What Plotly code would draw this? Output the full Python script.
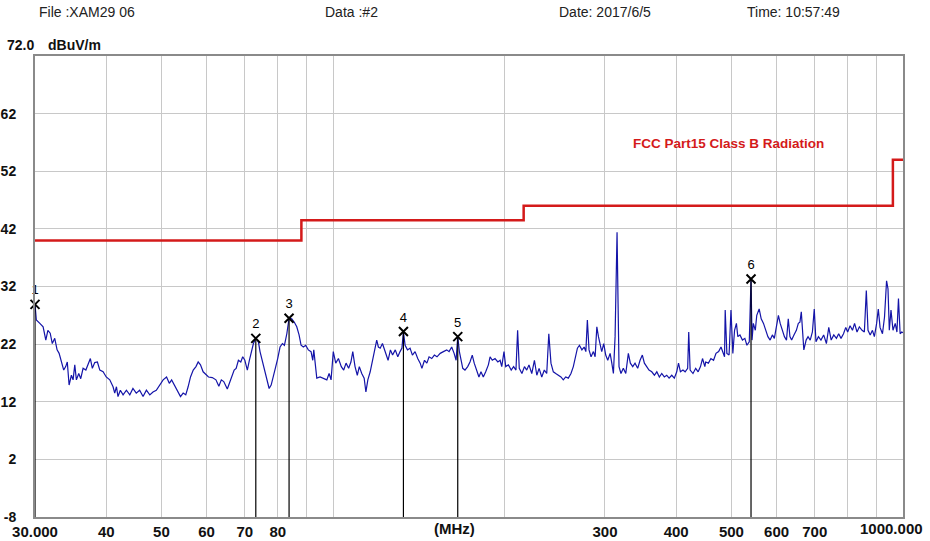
import math
import plotly.graph_objects as go

# ---------------- data ----------------
freq_mhz = [
    30.0, 30.16, 30.59, 31.0, 31.34, 31.6, 31.9, 32.17, 32.49, 32.8, 33.07, 33.37, 33.69, 33.96,
    34.18, 34.43, 34.75, 34.99, 35.23, 35.46, 35.8, 36.09, 36.43, 36.84, 37.19, 37.52, 37.82,
    38.19, 38.6, 38.98, 39.5, 40.0, 40.58, 41.12, 41.4, 41.69, 41.95, 42.35, 42.82, 43.4, 44.0,
    44.56, 45.16, 45.78, 46.42, 47.05, 47.7, 48.32, 48.97, 49.65, 50.34, 51.04, 51.61, 52.1,
    52.82, 53.52, 54.0, 54.58, 55.16, 55.69, 56.23, 56.85, 57.48, 58.0, 58.54, 59.17, 59.93,
    60.47, 61.4, 62.31, 63.05, 63.68, 64.31, 64.95, 65.24, 65.79, 66.44, 67.07, 67.61, 68.23,
    68.89, 69.43, 70.03, 70.74, 71.32, 72.03, 72.5, 73.2, 73.97, 74.46, 75.15, 75.78, 76.53,
    77.25, 77.88, 78.59, 79.34, 79.97, 80.73, 81.5, 82.17, 82.97, 83.73, 84.63, 85.53, 86.37,
    87.18, 87.89, 88.7, 89.55, 90.49, 91.5, 92.14, 92.52, 93.0, 93.65, 94.89, 96.18, 97.52,
    98.43, 99.21, 100.1, 101.1, 102.2, 103.4, 104.4, 105.4, 106.5, 107.5, 108.3, 109.3, 110.3,
    111.2, 112.3, 113.4, 114.2, 115.1, 116.2, 117.3, 118.2, 119.3, 120.1,
    121.0, 122.1, 123.5, 124.9, 126.1, 127.2, 128.6, 129.9, 131.1, 132.1, 132.9, 133.8, 135.1,
    136.5, 137.8, 139.3, 140.8, 142.2, 143.2, 144.7, 146.1, 147.4, 149.0, 150.6, 152.2, 154.2,
    156.2, 158.3, 159.8, 161.5, 163.1, 164.4, 165.5, 166.6, 167.8, 168.9, 170.4, 172.3, 173.9,
    175.5, 176.9, 178.6, 180.3, 181.8, 183.5, 185.3, 187.3, 188.6, 190.3, 192.4, 194.6, 196.4,
    197.7, 199.5, 200.9, 203.1, 205.4, 207.4, 209.4, 210.8, 212.2, 214.5, 216.7, 218.7, 220.7,
    223.2, 225.6, 227.8, 229.9, 232.4, 234.8, 237.1, 239.1,
    241.2, 243.5, 245.9, 248.5, 251.1, 253.5, 256.0, 258.7, 261.5, 264.0, 265.9, 268.4, 270.6,
    273.3, 275.8, 277.7, 279.4, 281.3, 283.6, 286.3, 288.3, 290.3, 292.2, 294.2, 296.1, 298.5,
    300.9, 303.4, 306.3, 308.4, 310.4, 312.5, 313.8, 315.0, 316.3, 317.5, 320.0, 323.1, 326.3,
    329.7, 332.4, 335.6, 338.7, 342.4, 345.7, 348.9, 351.8, 355.2, 358.4, 362.4, 366.3, 369.9,
    373.7, 377.3, 381.3, 385.0, 388.7, 392.9, 397.0, 400.9, 403.8, 406.9, 411.1, 414.7, 419.0,
    420.8, 423.2, 428.1, 432.8, 437.1, 441.3, 444.9, 449.1, 450.6, 455.6, 460.2, 465.2, 469.8,
    474.8, 479.4, 483.3, 486.3,
    487.6, 490.9, 495.3, 499.1, 502.9, 506.4, 510.2, 513.1, 517.5, 522.8, 527.9, 532.3, 537.4,
    541.2, 543.4, 546.3, 550.7, 553.9, 559.3, 563.9, 569.2, 574.8, 579.4, 584.7, 590.0, 594.7,
    600.2, 604.5, 608.9, 614.1, 619.4, 624.6, 629.1, 633.3, 637.7, 643.7, 650.0, 655.2, 659.4,
    663.1, 666.5, 669.9, 676.2, 681.4, 687.4, 693.5, 698.7, 703.6, 710.6, 717.9, 725.8, 733.9,
    740.9, 748.2, 756.1, 764.2, 771.2, 778.5, 786.4, 793.6, 799.7, 807.5, 815.4, 822.3, 830.5,
    838.4, 847.6, 855.5, 862.3, 868.2, 876.0, 883.9, 890.8, 899.0, 905.0, 911.5, 920.4, 928.1,
    935.8, 941.2, 946.2, 952.7, 960.4, 969.2, 975.8, 981.9, 988.5, 995.0, 1000.0,
]
level_dbuv = [
    28.9, 26.2, 25.6, 25.0, 22.7, 24.4, 23.9, 22.1, 23.0, 21.0, 20.4, 18.9, 17.5, 18.1,
    18.9, 14.9, 16.6, 15.8, 18.4, 15.8, 16.9, 16.0, 17.8, 17.5, 18.4, 19.5, 17.8,
    18.8, 18.9, 17.5, 17.2, 16.3, 15.8, 14.6, 13.5, 14.6, 12.9, 14.0, 13.2, 14.0, 13.2,
    14.3, 13.5, 14.0, 12.9, 14.0, 13.2, 13.7, 14.0, 14.9, 15.8, 16.3, 15.2, 15.8,
    14.6, 13.7, 12.9, 13.5, 13.2, 14.6, 16.3, 17.5, 18.1, 18.9, 18.4, 17.2, 16.6,
    16.3, 16.2, 15.8, 14.7, 15.8, 15.5, 14.6, 14.2, 15.2, 16.3, 17.5, 17.8, 19.2,
    18.9, 19.8, 19.2, 17.5, 19.2, 21.0, 22.1, 23.0, 22.4, 20.7, 19.2, 17.5, 15.8,
    14.3, 14.9, 16.3, 18.1, 19.5, 21.5, 22.1, 21.8, 23.8, 26.5, 26.4, 25.8, 25.0,
    23.6, 21.8, 21.5, 21.8, 21.0, 20.7, 19.2, 21.0, 18.4, 16.1, 16.3, 16.1, 15.8,
    16.9, 15.8, 20.7, 18.7, 19.5, 18.1, 17.5, 18.7, 17.8, 18.9, 20.7, 18.1, 16.6,
    18.1, 16.9, 16.1, 13.7, 15.8, 17.2, 19.2, 21.0, 22.7, 21.5,
    21.3, 22.1, 20.7, 19.2, 21.0, 20.1, 21.0, 19.8, 20.7, 21.3, 24.2, 21.8, 21.0,
    21.3, 20.1, 20.7, 19.5, 18.7, 17.8, 19.2, 18.7, 19.8, 19.5, 20.1, 19.8, 20.4,
    20.7, 21.0, 20.7, 21.5, 20.4, 19.2, 23.3, 20.7, 19.2, 17.8, 17.5, 18.1, 18.9,
    20.1, 18.7, 17.5, 16.3, 17.2, 16.3, 17.2, 18.4, 19.8, 19.2, 19.5, 18.9, 19.2,
    18.1, 20.7, 18.1, 18.4, 17.5, 18.1, 17.5, 24.4, 17.8, 16.9, 18.1, 17.5, 18.4,
    16.9, 19.2, 16.6, 17.8, 16.3, 17.5, 16.9, 23.8,
    18.7, 17.2, 16.9, 16.6, 16.3, 15.8, 16.3, 16.1, 16.9, 18.1, 19.8, 21.3, 21.8,
    21.0, 21.5, 20.7, 26.2, 21.0, 19.8, 20.7, 19.8, 25.0, 23.3, 21.8, 20.7, 22.1,
    20.1, 19.2, 20.4, 18.7, 16.9, 23.3, 35.4, 41.4, 29.0, 18.1, 16.9, 17.8, 16.9,
    20.4, 18.7, 18.1, 18.7, 17.8, 19.2, 20.1, 18.7, 18.1, 17.5, 17.2, 16.6, 17.2,
    16.3, 16.9, 16.3, 16.6, 16.1, 16.6, 16.1, 17.2, 18.7, 17.2, 17.5, 17.2, 17.8,
    24.1, 17.5, 16.9, 17.8, 17.2, 18.1, 19.5, 18.1, 18.9, 18.7, 19.5, 19.2, 20.4,
    20.7, 21.5, 20.7, 19.8,
    27.9, 20.4, 20.1, 27.9, 20.4, 24.4, 25.6, 23.3, 23.6, 22.7, 23.0, 21.8, 22.4,
    33.3, 22.7, 25.6, 24.4, 27.0, 28.1, 26.4, 25.6, 24.1, 23.3, 22.7, 23.6, 23.0,
    25.6, 27.0, 25.6, 24.4, 23.3, 22.7, 26.4, 23.3, 22.7, 23.6, 24.4, 25.6, 25.8,
    27.6, 24.1, 21.0, 22.7, 23.3, 22.7, 24.1, 28.1, 22.4, 23.3, 22.7, 23.6, 22.1,
    24.9, 22.7, 23.6, 23.0, 23.8, 23.0, 23.8, 24.9, 24.1, 25.2, 24.4, 25.6, 24.1,
    25.0, 24.4, 24.1, 31.3, 24.4, 23.6, 24.4, 23.3, 25.6, 28.1, 24.9, 23.8, 26.7,
    33.0, 31.6, 24.4, 27.9, 24.4, 25.6, 24.1, 29.9, 23.8, 24.1, 24.0,
]

limit_freq = [30, 88, 216, 960, 1000]
limit_level = [40, 43.5, 46, 54, 54]
limit_name = "FCC Part15 Class B Radiation"

marker_freq = [30.0, 73.2, 83.73, 132.9, 165.5, 541.2]
marker_level = [28.9, 23.0, 26.5, 24.2, 23.3, 33.3]
marker_label = ["1", "2", "3", "4", "5", "6"]

y_min, y_max = -8, 72
y_tick_vals = [-8, 2, 12, 22, 32, 42, 52, 62]
y_tick_text = ["-8", "2", "12", "22", "32", "42", "52", "62"]
x_tick_vals = [30, 40, 50, 60, 70, 80, 300, 400, 500, 600, 700]
x_tick_text = ["30.000", "40", "50", "60", "70", "80", "300", "400", "500", "600", "700"]
x_end_label = "1000.000"
x_grid_vals = [40, 50, 60, 70, 80, 90, 100, 200, 300, 400, 500, 600, 700, 800, 900]

header_texts = ["File :XAM29 06", "Data :#2", "Date: 2017/6/5", "Time: 10:57:49"]
header_x = [0.002, 0.332, 0.601, 0.818]
top_value_text = "72.0"
unit_text = "dBuV/m"
x_unit_text = "(MHz)"

# ---------------- figure ----------------
NARROW = "Liberation Sans Narrow, Arial Narrow, Liberation Sans, Arial"
SANS = "Liberation Sans, Arial, sans-serif"
TICKFONT_X = dict(family=NARROW, size=15, color="#111111", weight="bold")

fig = go.Figure()

# limit line
fig.add_trace(go.Scatter(
    x=limit_freq, y=limit_level, mode="lines", line_shape="hv",
    line=dict(color="#d41a1a", width=2.5), hoverinfo="skip", showlegend=False))

# measured trace
fig.add_trace(go.Scatter(
    x=freq_mhz, y=level_dbuv, mode="lines",
    line=dict(color="#1414a8", width=1.2), showlegend=False))

# marker vertical lines
vx, vy = [], []
for f, l in zip(marker_freq, marker_level):
    vx += [f, f, None]
    vy += [l, y_min, None]
fig.add_trace(go.Scatter(x=vx, y=vy, mode="lines",
                         line=dict(color="#000000", width=1.2),
                         hoverinfo="skip", showlegend=False))

# markers + numbers
fig.add_trace(go.Scatter(
    x=marker_freq, y=marker_level, mode="markers+text", text=marker_label,
    textposition="top center",
    textfont=dict(family=SANS, size=13, color="#000000"),
    marker=dict(symbol="x-thin", size=9, color="#000000",
                line=dict(width=2, color="#000000")),
    cliponaxis=False, showlegend=False))

fig.update_xaxes(
    type="log", range=[math.log10(30) - 1e-5, math.log10(1000) + 1e-5],
    tickmode="array", tickvals=x_tick_vals, ticktext=x_tick_text,
    showgrid=False, ticks="", zeroline=False, automargin=False,
    minor=dict(tickmode="array", tickvals=x_grid_vals, showgrid=True,
               gridcolor="#c8c8c8", gridwidth=1, ticks=""),
    showline=True, mirror=True, linecolor="#8a8a8a", linewidth=2,
    tickfont=TICKFONT_X,
)
fig.update_yaxes(
    range=[y_min, y_max], tickmode="array", tickvals=y_tick_vals, ticktext=y_tick_text,
    showgrid=True, gridcolor="#c8c8c8", gridwidth=1, ticks="", zeroline=False,
    automargin=False,
    showline=True, mirror=True, linecolor="#8a8a8a", linewidth=2,
    tickfont=dict(family=NARROW, size=14, color="#111111", weight="bold"),
    ticklabelstandoff=14,
)

annotations = []
for t, x in zip(header_texts, header_x):
    annotations.append(dict(text=t, x=x, y=1.095, xref="paper", yref="paper",
                            xanchor="left", yanchor="middle", showarrow=False,
                            font=dict(family=SANS, size=14, color="#222222")))
annotations.append(dict(text=top_value_text, x=-0.0345, y=1.024, xref="paper", yref="paper",
                        xanchor="left", yanchor="middle", showarrow=False,
                        font=dict(family=NARROW, size=14, color="#111111", weight="bold")))
annotations.append(dict(text=unit_text, x=0.0127, y=1.024, xref="paper", yref="paper",
                        xanchor="left", yanchor="middle", showarrow=False,
                        font=dict(family=NARROW, size=14, color="#111111", weight="bold")))
annotations.append(dict(text=x_unit_text, x=0.4835, y=-0.026, xref="paper", yref="paper",
                        xanchor="center", yanchor="middle", showarrow=False,
                        font=TICKFONT_X))
annotations.append(dict(text=x_end_label, x=1.0, xshift=22, y=-0.026, xref="paper", yref="paper",
                        xanchor="right", yanchor="middle", showarrow=False,
                        font=TICKFONT_X))
annotations.append(dict(text=limit_name, x=0.7995, y=0.8095, xref="paper", yref="paper",
                        xanchor="center", yanchor="middle", showarrow=False,
                        font=dict(family=SANS, size=13.5, color="#d41a1a", weight="bold")))

fig.update_layout(
    width=930, height=541,
    margin=dict(l=35, r=27, t=56, b=24, pad=0),
    paper_bgcolor="#ffffff", plot_bgcolor="#ffffff",
    showlegend=False, annotations=annotations,
)

fig.write_html("out.html", config={"displayModeBar": False},
               post_script="document.body.style.margin='0';")
